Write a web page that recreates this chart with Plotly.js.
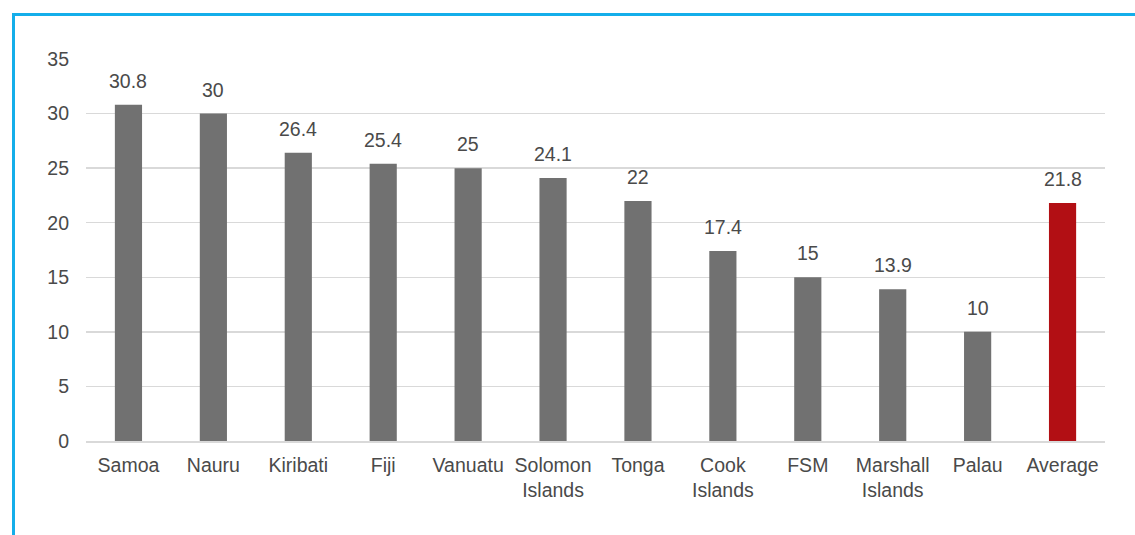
<!DOCTYPE html>
<html>
<head>
<meta charset="utf-8">
<script src="https://cdn.plot.ly/plotly-3.0.1.min.js"></script>
<style>
html,body{margin:0;padding:0;background:#fff;}
#wrap{position:relative;width:1135px;height:535px;overflow:hidden;}
#frame{position:absolute;left:12px;top:13px;width:1200px;height:600px;border-top:3px solid #14AEEA;border-left:3px solid #14AEEA;box-sizing:border-box;}
#chart{position:absolute;left:0;top:0;width:1135px;height:535px;}
</style>
</head>
<body>
<div id="wrap">
<div id="frame"></div>
<div id="chart"></div>
</div>
<script>
const categories = ["Samoa","Nauru","Kiribati","Fiji","Vanuatu","Solomon<br>Islands","Tonga","Cook<br>Islands","FSM","Marshall<br>Islands","Palau","Average"];
const values = [30.8, 30, 26.4, 25.4, 25, 24.1, 22, 17.4, 15, 13.9, 10, 21.8];
const valueLabels = ["30.8","30","26.4","25.4","25","24.1","22","17.4","15","13.9","10","21.8"];
const yTickValues = [0,5,10,15,20,25,30,35];

const colors = categories.map(c => c === "Average" ? "#B20F14" : "#717171");
const txt = "#4a4a4a";
const fam = "Liberation Sans, Arial, sans-serif";

const trace = {
  type: "bar",
  x: categories,
  y: values,
  marker: {color: colors, line: {width: 0}},
  width: 0.32,
  hoverinfo: "x+y"
};

const annotations = categories.map((c, i) => ({
  x: c, y: values[i], xref: "x", yref: "y",
  text: valueLabels[i], showarrow: false,
  yanchor: "middle", yshift: 24,
  font: {family: fam, size: 19.5, color: txt}
}));

const layout = {
  width: 1135, height: 535,
  margin: {l: 86, r: 30, t: 59, b: 94},
  paper_bgcolor: "rgba(0,0,0,0)",
  plot_bgcolor: "rgba(0,0,0,0)",
  showlegend: false,
  font: {family: fam, size: 19.5, color: txt},
  xaxis: {
    type: "category",
    showgrid: false,
    showline: true, linecolor: "#d9d9d9", linewidth: 1.5,
    ticks: "", ticklabelstandoff: 6,
    tickfont: {size: 19.5, color: txt},
    automargin: false
  },
  yaxis: {
    range: [0, 35],
    tickvals: yTickValues,
    showgrid: true, gridcolor: "#d9d9d9", gridwidth: 1.5,
    zeroline: false, showline: false,
    ticks: "", ticklabelstandoff: 16,
    tickfont: {size: 19.5, color: txt},
    automargin: false
  },
  annotations: annotations,
  bargap: 0.68
};

Plotly.newPlot("chart", [trace], layout, {displayModeBar: false, staticPlot: true});
</script>
</body>
</html>
